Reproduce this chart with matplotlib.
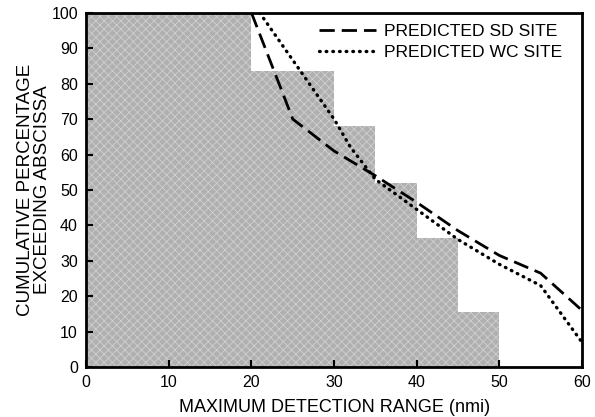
import matplotlib
matplotlib.use("Agg")
import matplotlib.pyplot as plt

plt.rcParams['font.family'] = ['Liberation Sans', 'DejaVu Sans']
plt.rcParams['hatch.linewidth'] = 0.6

# observed cumulative percentage (histogram bins, 5 nmi wide)
bin_left = [0, 5, 10, 15, 20, 25, 30, 35, 40, 45]
observed = [100, 100, 100, 100, 83.5, 83.5, 68, 52, 36.5, 15.5]

# predicted curves
sd_range = [20, 22.5, 25, 30, 35, 40, 45, 50, 55, 60]
sd_pct = [100, 85, 70, 61, 54, 46.5, 38.5, 31.5, 26.5, 16]
wc_range = [21, 24, 27, 30, 32, 35, 40, 45, 50, 55, 60]
wc_pct = [100, 90, 80, 70, 62, 53, 44.5, 36, 29, 23, 7]

fig = plt.figure(figsize=(5.95, 4.17), dpi=100)
ax = fig.add_axes([0.145, 0.12, 0.833, 0.849])

# shaded histogram
ax.bar(bin_left, observed, width=5, align='edge', color='#b0b0b0',
       edgecolor='#d0d0d0', hatch='xxxx', linewidth=0, zorder=1)

ax.plot(sd_range, sd_pct, color='black', lw=2, ls=(0, (5.5, 2.5)),
        label='PREDICTED SD SITE', zorder=3)
ax.plot(wc_range, wc_pct, color='black', lw=2.4, ls=(0, (0.2, 1.8)),
        dash_capstyle='round', label='PREDICTED WC SITE', zorder=3)

ax.set_xlim(0, 60)
ax.set_ylim(0, 100)
ax.set_xticks(range(0, 61, 10))
ax.set_yticks(range(0, 101, 10))
ax.tick_params(direction='in', length=5, width=1.5, labelsize=11.5, pad=6)
for s in ax.spines.values():
    s.set_linewidth(2)

ax.set_xlabel('MAXIMUM DETECTION RANGE (nmi)', fontsize=13, labelpad=6)
ax.set_ylabel('CUMULATIVE PERCENTAGE\nEXCEEDING ABSCISSA', fontsize=13.5,
              labelpad=0, linespacing=1.05)

ax.legend(loc='upper right', bbox_to_anchor=(0.982, 1.0), frameon=False,
          fontsize=12.6, handlelength=3.3, handletextpad=0.45,
          labelspacing=0.35, borderaxespad=0.2)

fig.savefig('out.png', dpi=100)
